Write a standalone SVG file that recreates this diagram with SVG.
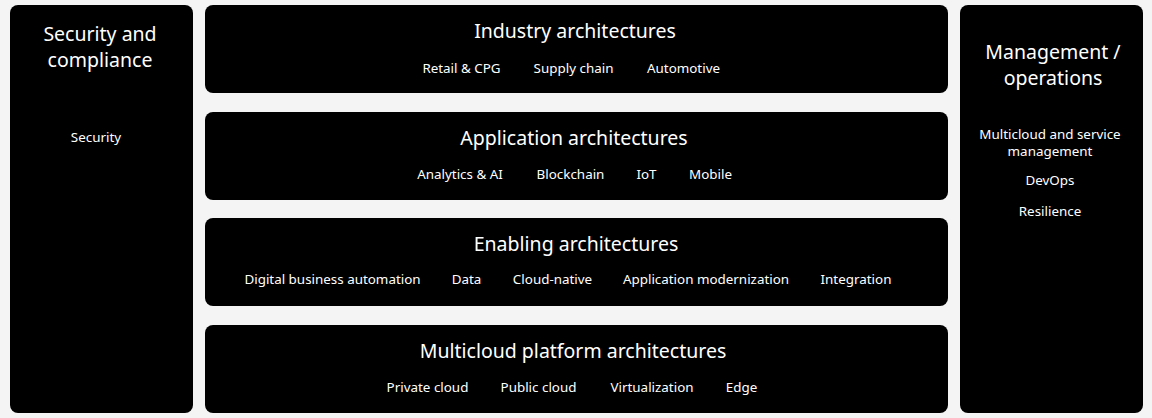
<svg xmlns="http://www.w3.org/2000/svg" width="1152" height="418" viewBox="0 0 1152 418">
<style>
.box{fill:#000000}
text{fill:#ffffff;font-family:"Noto Sans","Open Sans","Liberation Sans",sans-serif;text-anchor:middle}
.t{font-size:19.5px}
.i{font-size:13.4px}
</style>
<rect x="0" y="0" width="1152" height="418" fill="#f4f4f4"/>
<g id="security">
<rect class="box" x="10" y="5" width="183" height="408" rx="8"/>
<text class="t" x="100" y="41">Security and</text>
<text class="t" x="100" y="67">compliance</text>
<text class="i" x="96" y="142">Security</text>
</g>
<g id="industry">
<rect class="box" x="205" y="5" width="743" height="88" rx="8"/>
<text class="t" x="575" y="38">Industry architectures</text>
<text class="i" x="461.5" y="73">Retail &amp; CPG</text>
<text class="i" x="573.5" y="73">Supply chain</text>
<text class="i" x="683.5" y="73">Automotive</text>
</g>
<g id="application">
<rect class="box" x="205" y="112" width="743" height="88" rx="8"/>
<text class="t" x="574" y="145">Application architectures</text>
<text class="i" x="460" y="179">Analytics &amp; AI</text>
<text class="i" x="570.5" y="179">Blockchain</text>
<text class="i" x="646.5" y="179">IoT</text>
<text class="i" x="710.5" y="179">Mobile</text>
</g>
<g id="enabling">
<rect class="box" x="205" y="218" width="743" height="88" rx="8"/>
<text class="t" x="576" y="251">Enabling architectures</text>
<text class="i" x="332.5" y="284">Digital business automation</text>
<text class="i" x="466.5" y="284">Data</text>
<text class="i" x="552.5" y="284">Cloud-native</text>
<text class="i" x="706" y="284">Application modernization</text>
<text class="i" x="856" y="284">Integration</text>
</g>
<g id="multicloud">
<rect class="box" x="205" y="325" width="743" height="88" rx="8"/>
<text class="t" x="573" y="358">Multicloud platform architectures</text>
<text class="i" x="427.5" y="392">Private cloud</text>
<text class="i" x="538.5" y="392">Public cloud</text>
<text class="i" x="652" y="392">Virtualization</text>
<text class="i" x="741.5" y="392">Edge</text>
</g>
<g id="management">
<rect class="box" x="960" y="5" width="183" height="408" rx="8"/>
<text class="t" x="1053" y="59">Management /</text>
<text class="t" x="1053" y="85">operations</text>
<text class="i" x="1050" y="139">Multicloud and service</text>
<text class="i" x="1050" y="155.5">management</text>
<text class="i" x="1050" y="185">DevOps</text>
<text class="i" x="1050" y="216">Resilience</text>
</g>
<g id="connectors"></g>
</svg>
